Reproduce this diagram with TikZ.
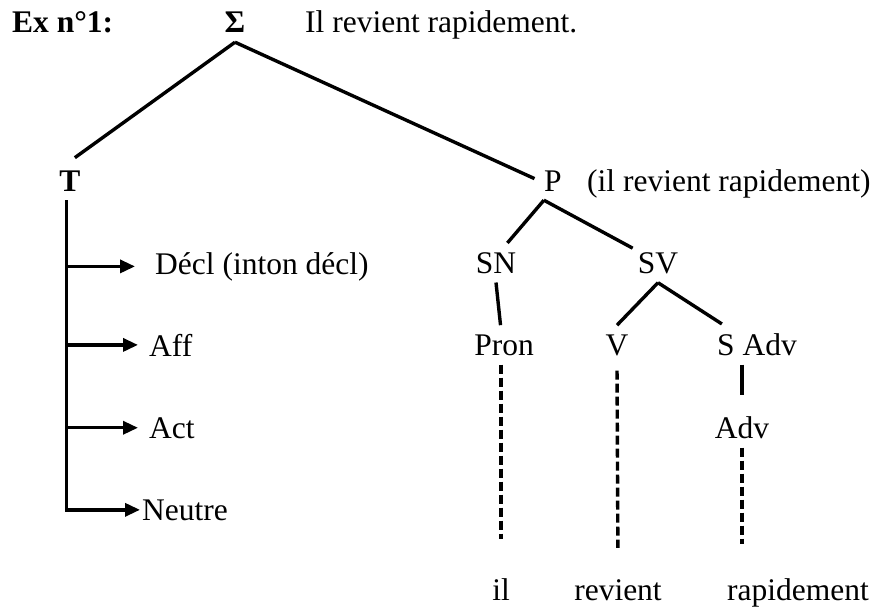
\documentclass[tikz,border=0pt]{standalone}
\usepackage{fontspec}
\setmainfont{Liberation Serif}
\usetikzlibrary{arrows.meta}
\begin{document}
\begin{tikzpicture}[x=1pt,y=-1pt,font=\fontsize{31.5}{38}\selectfont,
  cat/.style={anchor=base,inner xsep=5pt,inner ysep=9pt},
  txt/.style={anchor=base west,inner sep=0pt},
  br/.style={line width=3.4pt},
  arr/.style={line width=3.4pt,-{Triangle[length=15pt,width=13pt]}},
  dots/.style={line width=3.4pt,dash pattern=on 9pt off 4pt}]
\useasboundingbox (0,0) rectangle (876,610);
\node[txt] (ex) at (12,33) {\textbf{Ex n°1:}};
\node[cat] (sig) at (235,33) {\textbf{Σ}};
\node[txt] (phr) at (305,33) {Il revient rapidement.};
\node[cat] (T) at (70,191) {\textbf{T}};
\node[cat] (P) at (553,191) {P};
\node[txt] (Pgl) at (587,191) {(il revient rapidement)};
\node[txt] (decl) at (155,274) {Décl (inton décl)};
\node[txt] (aff) at (149,356) {Aff};
\node[txt] (act) at (149,438) {Act};
\node[txt] (neutre) at (142,520) {Neutre};
\node[cat] (SN) at (496,273) {SN};
\node[cat] (SV) at (658,273) {SV};
\node[cat] (Pron) at (504,355) {Pron};
\node[cat] (V) at (617,355) {V};
\node[cat] (SAdv) at (757,355) {S Adv};
\node[cat] (Adv) at (742,438) {Adv};
\node[cat] (il) at (501,600) {il};
\node[cat] (revient) at (618,600) {revient};
\node[cat] (rapid) at (798,600) {rapidement};
\draw[br,shorten >=6pt] (sig.south) -- (T.north);
\draw[br,shorten >=5pt] (sig.south) -- (P.west);
\draw[br] (P.-115) -- (SN.60);
\draw[br] (P.-115) -- (SV.150);
\draw[br] (SN.south) -- (Pron.100);
\draw[br] (SV.south) -- (V.north);
\draw[br] (SV.south) -- (SAdv.150);
\draw[br,shorten >=12pt] (Adv.north |- SAdv.south) -- (Adv.north);
\draw[dots,shorten >=30pt] (il.north |- Pron.south) -- (il.north);
\draw[dots,shorten <=6pt,shorten >=22pt] (V.south) -- (revient.north);
\draw[dots,shorten >=25pt] (Adv.south) -- (Adv.south |- rapid.north);
\draw[arr,shorten >=2pt] (T.-100) |- (neutre.west);
\draw[arr,shorten >=20pt] (T.-100 |- decl.west) -- (decl.west);
\draw[arr,shorten >=11pt] (T.-100 |- aff.west) -- (aff.west);
\draw[arr,shorten >=11pt] (T.-100 |- act.west) -- (act.west);
\end{tikzpicture}
\end{document}
